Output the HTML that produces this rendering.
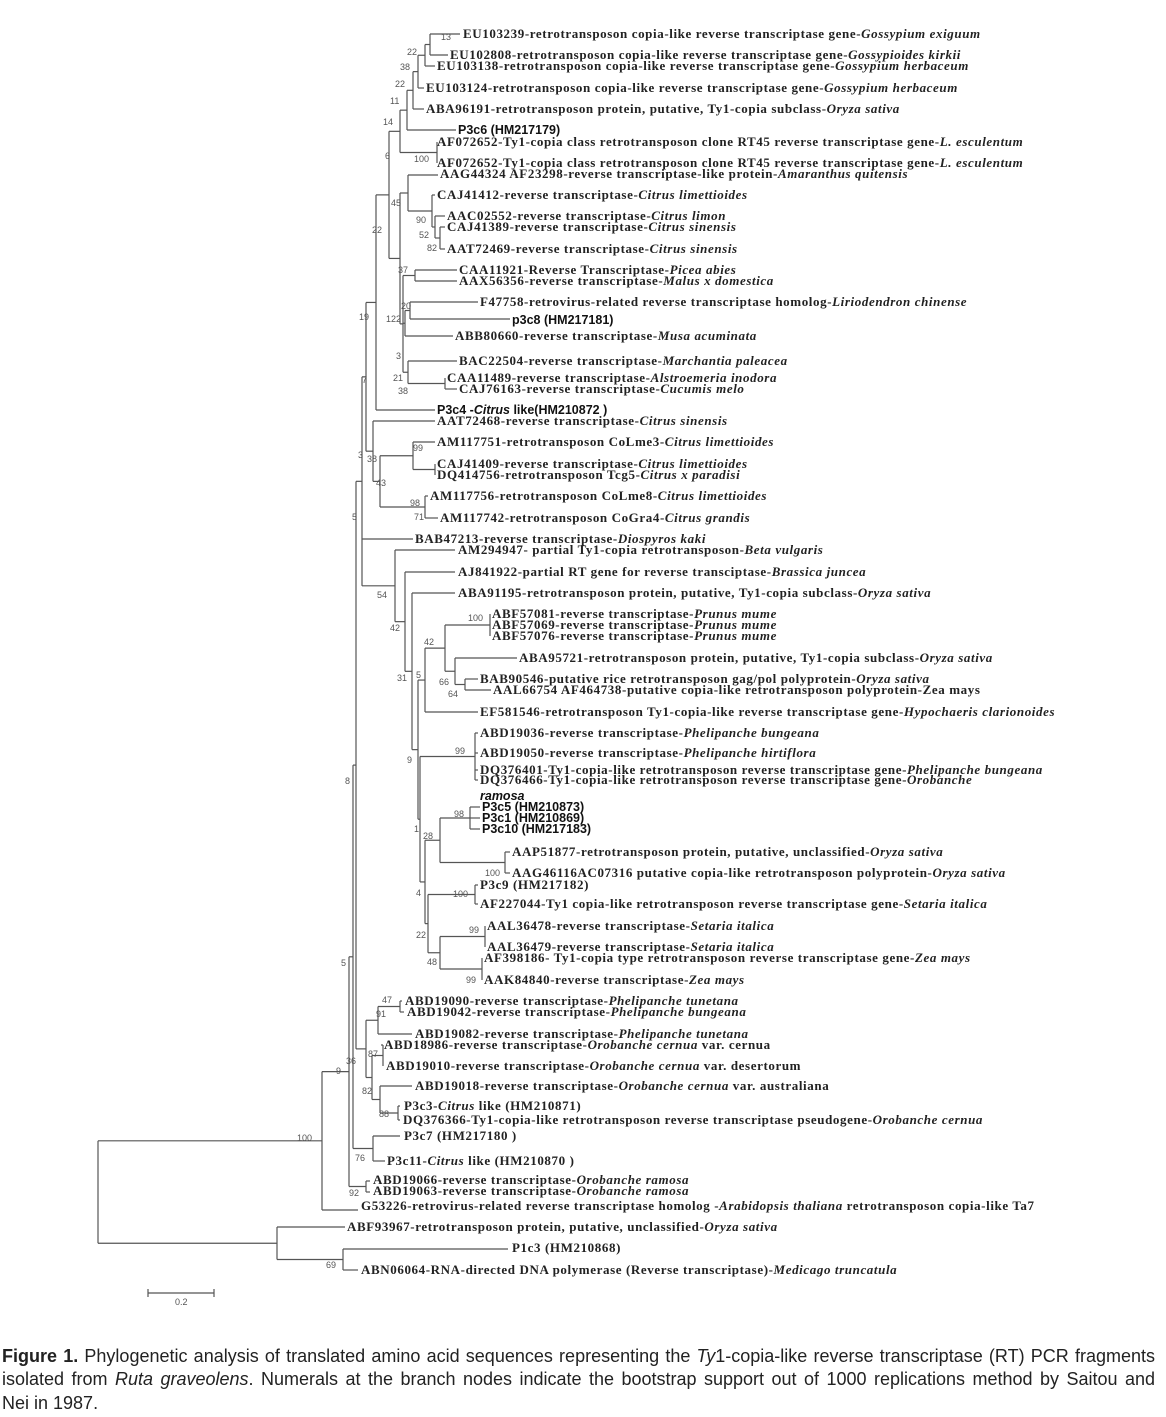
<!DOCTYPE html>
<html><head><meta charset="utf-8">
<style>
html,body{margin:0;padding:0;background:#fff;}
body{width:1166px;height:1417px;position:relative;overflow:hidden;}
svg{position:absolute;left:0;top:0;}
.l{font-family:"Liberation Serif",serif;font-weight:bold;font-size:13px;letter-spacing:0.6px;fill:#222;}
.s{font-family:"Liberation Sans",sans-serif;font-weight:bold;font-size:12.5px;fill:#111;}
.b{font-family:"Liberation Sans",sans-serif;font-size:9px;fill:#555;}
.cap{position:absolute;left:2px;width:1153px;font-family:"Liberation Sans",sans-serif;font-size:18px;color:#222;white-space:nowrap;text-align:justify;text-align-last:justify;}
</style></head><body>
<svg id="t" width="1166" height="1417" viewBox="0 0 1166 1417">
<g id="lines" stroke="#555" stroke-width="1.2" fill="none"></g>
<g>
<text class="l" x="463" y="38">EU103239-retrotransposon copia-like reverse transcriptase gene-<tspan font-style="italic">Gossypium exiguum</tspan></text>
<text class="l" x="450" y="59">EU102808-retrotransposon copia-like reverse transcriptase gene-<tspan font-style="italic">Gossypioides kirkii</tspan></text>
<text class="l" x="437" y="70">EU103138-retrotransposon copia-like reverse transcriptase gene-<tspan font-style="italic">Gossypium herbaceum</tspan></text>
<text class="l" x="426" y="92">EU103124-retrotransposon copia-like reverse transcriptase gene-<tspan font-style="italic">Gossypium herbaceum</tspan></text>
<text class="l" x="426" y="113">ABA96191-retrotransposon protein, putative, Ty1-copia subclass-<tspan font-style="italic">Oryza sativa</tspan></text>
<text class="s" x="458" y="134">P3c6 (HM217179)</text>
<text class="l" x="437" y="146">AF072652-Ty1-copia class retrotransposon clone RT45 reverse transcriptase gene-<tspan font-style="italic">L. esculentum</tspan></text>
<text class="l" x="437" y="167">AF072652-Ty1-copia class retrotransposon clone RT45 reverse transcriptase gene-<tspan font-style="italic">L. esculentum</tspan></text>
<text class="l" x="440" y="178">AAG44324 AF23298-reverse transcriptase-like protein-<tspan font-style="italic">Amaranthus quitensis</tspan></text>
<text class="l" x="437" y="199">CAJ41412-reverse transcriptase-<tspan font-style="italic">Citrus limettioides</tspan></text>
<text class="l" x="447" y="220">AAC02552-reverse transcriptase-<tspan font-style="italic">Citrus limon</tspan></text>
<text class="l" x="447" y="231">CAJ41389-reverse transcriptase-<tspan font-style="italic">Citrus sinensis</tspan></text>
<text class="l" x="447" y="253">AAT72469-reverse transcriptase-<tspan font-style="italic">Citrus sinensis</tspan></text>
<text class="l" x="459" y="274">CAA11921-Reverse Transcriptase-<tspan font-style="italic">Picea abies</tspan></text>
<text class="l" x="459" y="285">AAX56356-reverse transcriptase-<tspan font-style="italic">Malus x domestica</tspan></text>
<text class="l" x="480" y="306">F47758-retrovirus-related reverse transcriptase homolog-<tspan font-style="italic">Liriodendron chinense</tspan></text>
<text class="s" x="512" y="324">p3c8 (HM217181)</text>
<text class="l" x="455" y="340">ABB80660-reverse transcriptase-<tspan font-style="italic">Musa acuminata</tspan></text>
<text class="l" x="459" y="365">BAC22504-reverse transcriptase-<tspan font-style="italic">Marchantia paleacea</tspan></text>
<text class="l" x="447" y="382">CAA11489-reverse transcriptase-<tspan font-style="italic">Alstroemeria inodora</tspan></text>
<text class="l" x="459" y="393">CAJ76163-reverse transcriptase-<tspan font-style="italic">Cucumis melo</tspan></text>
<text class="s" x="437" y="414">P3c4 -<tspan font-style="italic">Citrus</tspan> like(HM210872 )</text>
<text class="l" x="437" y="425">AAT72468-reverse transcriptase-<tspan font-style="italic">Citrus sinensis</tspan></text>
<text class="l" x="437" y="446">AM117751-retrotransposon CoLme3-<tspan font-style="italic">Citrus limettioides</tspan></text>
<text class="l" x="437" y="468">CAJ41409-reverse transcriptase-<tspan font-style="italic">Citrus limettioides</tspan></text>
<text class="l" x="437" y="479">DQ414756-retrotransposon Tcg5-<tspan font-style="italic">Citrus x paradisi</tspan></text>
<text class="l" x="430" y="500">AM117756-retrotransposon CoLme8-<tspan font-style="italic">Citrus limettioides</tspan></text>
<text class="l" x="440" y="522">AM117742-retrotransposon CoGra4-<tspan font-style="italic">Citrus grandis</tspan></text>
<text class="l" x="415" y="543">BAB47213-reverse transcriptase-<tspan font-style="italic">Diospyros kaki</tspan></text>
<text class="l" x="458" y="554">AM294947- partial Ty1-copia retrotransposon-<tspan font-style="italic">Beta vulgaris</tspan></text>
<text class="l" x="458" y="576">AJ841922-partial RT gene for reverse transciptase-<tspan font-style="italic">Brassica juncea</tspan></text>
<text class="l" x="458" y="597">ABA91195-retrotransposon protein, putative, Ty1-copia subclass-<tspan font-style="italic">Oryza sativa</tspan></text>
<text class="l" x="492" y="618">ABF57081-reverse transcriptase-<tspan font-style="italic">Prunus mume</tspan></text>
<text class="l" x="492" y="629">ABF57069-reverse transcriptase-<tspan font-style="italic">Prunus mume</tspan></text>
<text class="l" x="492" y="640">ABF57076-reverse transcriptase-<tspan font-style="italic">Prunus mume</tspan></text>
<text class="l" x="519" y="662">ABA95721-retrotransposon protein, putative, Ty1-copia subclass-<tspan font-style="italic">Oryza sativa</tspan></text>
<text class="l" x="480" y="683">BAB90546-putative rice retrotransposon  gag/pol polyprotein-<tspan font-style="italic">Oryza sativa</tspan></text>
<text class="l" x="493" y="694">AAL66754 AF464738-putative copia-like retrotransposon polyprotein-Zea mays</text>
<text class="l" x="480" y="716">EF581546-retrotransposon Ty1-copia-like reverse transcriptase gene-<tspan font-style="italic">Hypochaeris clarionoides</tspan></text>
<text class="l" x="480" y="737">ABD19036-reverse transcriptase-<tspan font-style="italic">Phelipanche bungeana</tspan></text>
<text class="l" x="480" y="757">ABD19050-reverse transcriptase-<tspan font-style="italic">Phelipanche hirtiflora</tspan></text>
<text class="l" x="480" y="774">DQ376401-Ty1-copia-like retrotransposon reverse transcriptase gene-<tspan font-style="italic">Phelipanche bungeana</tspan></text>
<text class="l" x="480" y="784">DQ376466-Ty1-copia-like retrotransposon reverse transcriptase gene-<tspan font-style="italic">Orobanche</tspan></text>
<text class="s" x="480" y="800" font-style="italic" font-size="10">ramosa</text>
<text class="s" x="482" y="811">P3c5 (HM210873)</text>
<text class="s" x="482" y="822">P3c1 (HM210869)</text>
<text class="s" x="482" y="833">P3c10 (HM217183)</text>
<text class="l" x="512" y="856">AAP51877-retrotransposon protein, putative, unclassified-<tspan font-style="italic">Oryza sativa</tspan></text>
<text class="l" x="512" y="877">AAG46116AC07316 putative copia-like retrotransposon polyprotein-<tspan font-style="italic">Oryza sativa</tspan></text>
<text class="l" x="480" y="889">P3c9 (HM217182)</text>
<text class="l" x="480" y="908">AF227044-Ty1 copia-like retrotransposon reverse transcriptase gene-<tspan font-style="italic">Setaria italica</tspan></text>
<text class="l" x="487" y="930">AAL36478-reverse transcriptase-<tspan font-style="italic">Setaria italica</tspan></text>
<text class="l" x="487" y="951">AAL36479-reverse transcriptase-<tspan font-style="italic">Setaria italica</tspan></text>
<text class="l" x="484" y="962">AF398186- Ty1-copia type retrotransposon reverse transcriptase gene-<tspan font-style="italic">Zea mays</tspan></text>
<text class="l" x="484" y="984">AAK84840-reverse transcriptase-<tspan font-style="italic">Zea mays</tspan></text>
<text class="l" x="405" y="1005">ABD19090-reverse transcriptase-<tspan font-style="italic">Phelipanche tunetana</tspan></text>
<text class="l" x="407" y="1016">ABD19042-reverse transcriptase-<tspan font-style="italic">Phelipanche bungeana</tspan></text>
<text class="l" x="415" y="1038">ABD19082-reverse transcriptase-<tspan font-style="italic">Phelipanche tunetana</tspan></text>
<text class="l" x="384" y="1049">ABD18986-reverse transcriptase-<tspan font-style="italic">Orobanche cernua</tspan> var. cernua</text>
<text class="l" x="386" y="1070">ABD19010-reverse transcriptase-<tspan font-style="italic">Orobanche cernua</tspan> var. desertorum</text>
<text class="l" x="415" y="1090">ABD19018-reverse transcriptase-<tspan font-style="italic">Orobanche cernua</tspan> var. australiana</text>
<text class="l" x="404" y="1110">P3c3-<tspan font-style="italic">Citrus</tspan> like (HM210871)</text>
<text class="l" x="403" y="1124">DQ376366-Ty1-copia-like retrotransposon reverse transcriptase pseudogene-<tspan font-style="italic">Orobanche cernua</tspan></text>
<text class="l" x="404" y="1140">P3c7 (HM217180 )</text>
<text class="l" x="387" y="1165" font-size="11.5">P3c11-<tspan font-style="italic">Citrus</tspan> like (HM210870 )</text>
<text class="l" x="373" y="1184">ABD19066-reverse transcriptase-<tspan font-style="italic">Orobanche ramosa</tspan></text>
<text class="l" x="373" y="1195">ABD19063-reverse transcriptase-<tspan font-style="italic">Orobanche ramosa</tspan></text>
<text class="l" x="361" y="1210">G53226-retrovirus-related reverse transcriptase homolog -<tspan font-style="italic">Arabidopsis thaliana</tspan> retrotransposon copia-like Ta7</text>
<text class="l" x="347" y="1231">ABF93967-retrotransposon protein, putative, unclassified-<tspan font-style="italic">Oryza sativa</tspan></text>
<text class="l" x="512" y="1252">P1c3 (HM210868)</text>
<text class="l" x="361" y="1274">ABN06064-RNA-directed DNA polymerase (Reverse transcriptase)-<tspan font-style="italic">Medicago truncatula</tspan></text>
</g>
<g class="b">
<text x="441" y="40">13</text><text x="407" y="55">22</text><text x="400" y="70">38</text><text x="395" y="87">22</text>
<text x="390" y="104">11</text><text x="383" y="125">14</text><text x="385" y="159">6</text><text x="414" y="162">100</text>
<text x="391" y="206">45</text><text x="416" y="223">90</text><text x="419" y="238">52</text><text x="427" y="251">82</text>
<text x="372" y="233">22</text><text x="398" y="273">37</text><text x="401" y="309">20</text><text x="386" y="322">122</text>
<text x="359" y="320">19</text><text x="396" y="359">3</text><text x="393" y="381">21</text><text x="398" y="394">38</text>
<text x="362" y="383">7</text><text x="413" y="451">99</text><text x="358" y="458">3</text><text x="367" y="462">38</text>
<text x="376" y="486">43</text><text x="410" y="506">98</text><text x="414" y="520">71</text><text x="352" y="520">5</text>
<text x="377" y="598">54</text><text x="390" y="631">42</text><text x="424" y="645">42</text><text x="468" y="621">100</text>
<text x="397" y="681">31</text><text x="416" y="678">5</text><text x="439" y="685">66</text><text x="448" y="697">64</text>
<text x="455" y="754">99</text><text x="407" y="763">9</text><text x="345" y="784">8</text><text x="454" y="817">98</text>
<text x="414" y="832">1</text><text x="423" y="839">28</text><text x="485" y="876">100</text><text x="416" y="896">4</text>
<text x="453" y="897">100</text><text x="416" y="938">22</text><text x="469" y="933">99</text><text x="427" y="965">48</text>
<text x="466" y="983">99</text><text x="341" y="966">5</text><text x="382" y="1003">47</text><text x="376" y="1017">91</text>
<text x="368" y="1057">87</text><text x="346" y="1064">36</text><text x="362" y="1094">82</text><text x="379" y="1117">88</text>
<text x="336" y="1074">9</text><text x="297" y="1141">100</text><text x="355" y="1161">76</text><text x="349" y="1196">92</text>
<text x="326" y="1268">69</text><text x="175" y="1305">0.2</text>
</g>
<g stroke="#555" stroke-width="1.2"><line x1="148" y1="1293" x2="214" y2="1293"/><line x1="148" y1="1289" x2="148" y2="1297"/><line x1="214" y1="1289" x2="214" y2="1297"/></g>
</svg>
<div class="cap" style="top:1346px;"><b>Figure 1.</b> Phylogenetic analysis of translated amino acid sequences representing the <i>Ty</i>1-copia-like reverse transcriptase (RT) PCR fragments</div>
<div class="cap" style="top:1369px;">isolated from <i>Ruta graveolens</i>. Numerals at the branch nodes indicate the bootstrap support out of 1000 replications method by Saitou and</div>
<div class="cap" style="top:1393px;text-align-last:left;">Nei in 1987.</div>
<script>
function L(y,t){return {y:y,t:t};}
function N(x,c){return {x:x,c:c};}
var up=N(389,[
 N(400,[
  N(407,[
   N(413,[
    N(418,[
     N(425,[ N(430,[L(34,460),L(55,448)]), L(66,435)]),
     L(88,424)]),
    L(109,424)]),
   L(130,456)]),
  N(437,[L(142,437),L(163,437)])
 ]),
 N(400,[
  N(408,[L(175,438), N(432,[L(195,435), N(435,[L(216,445), N(440,[L(227,445),L(249,445)])])])]),
  N(403,[
   N(415,[L(270,457),L(281,457)]),
   N(405,[ N(410,[L(302,478),L(319,510)]), L(336,453)]),
   N(408,[L(361,457), N(445,[L(378,445),L(389,457)])])
  ])
 ])
]);
var S=N(366,[
 N(376,[up, L(410,435)]),
 N(373,[L(421,435), N(380,[ N(413,[L(442,435), N(435,[L(464,435),L(475,435)])]), N(425,[L(496,428),L(518,438)])])])
]);
var W=N(418,[
 N(425,[ N(445,[ N(490,[L(614,490),L(625,490),L(636,490)]), N(455,[L(658,517), N(465,[L(679,478),L(690,491)])])]), L(712,478)]),
 N(420,[
  N(475,[L(733,478),L(753,478),L(770,478),L(780,478)]),
  N(425,[
   N(440,[ N(470,[L(807,480),L(818,480),L(829,480)]), N(505,[L(852,510),L(873,510)])]),
   N(428,[ N(475,[L(885,478),L(904,478)]),
     N(440,[ N(485,[L(926,485),L(947,485)]), N(482,[L(958,482),L(980,482)])])])
  ])
 ])
]);
var P=N(362,[S, L(539,413), N(395,[L(550,455), N(405,[L(572,455), N(412,[L(593,455), W])])])]);
var J=N(366,[
 N(378,[ N(400,[L(1001,402),L(1012,404)]), L(1034,412)]),
 N(372,[ N(383,[L(1045,381),L(1066,383)]), N(380,[L(1086,412), N(398,[L(1106,400),L(1120,400)])])])
]);
var root=N(98,[
 N(322,[
  N(349,[
   N(353,[ N(356,[P,J]), N(373,[L(1136,400),L(1161,385)]) ]),
   N(366,[L(1181,370),L(1192,370)])
  ]),
  L(1210,358)
 ]),
 N(277,[L(1227,345), N(343,[L(1249,508),L(1270,358)])])
]);
var g=document.getElementById('lines'),ns='http://www.w3.org/2000/svg';
function ln(a,b,c,d){var e=document.createElementNS(ns,'line');e.setAttribute('x1',a);e.setAttribute('y1',b);e.setAttribute('x2',c);e.setAttribute('y2',d);g.appendChild(e);}
function cy(n){if(n.c===undefined)return n.y;var ys=n.c.map(cy);n.y=(Math.min.apply(0,ys)+Math.max.apply(0,ys))/2;n.y0=Math.min.apply(0,ys);n.y1=Math.max.apply(0,ys);return n.y;}
function dr(n){if(n.c===undefined)return;ln(n.x,n.y0,n.x,n.y1);n.c.forEach(function(k){var ex=(k.c===undefined)?k.t:k.x;ln(n.x,k.y,ex,k.y);dr(k);});}
cy(root);dr(root);
</script>
</body></html>
